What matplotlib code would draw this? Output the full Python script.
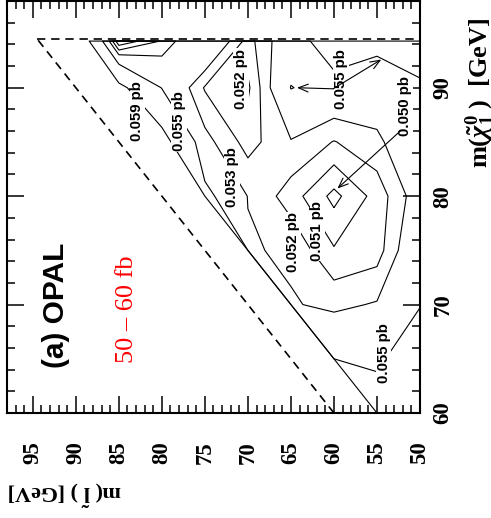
import numpy as np
import matplotlib.pyplot as plt

# scan grid: slepton mass (columns) and neutralino mass (rows), GeV
m_slepton = [50, 55, 60, 65, 70, 75, 80, 85, 90]
m_chi = [60, 65, 70, 75, 80, 85, 90, 94.3]

# 95% CL cross-section limit in pb, None = kinematically forbidden
limit_pb = [
    [0.0580, 0.0565, None, None, None, None, None, None, None],
    [0.05688, 0.05453, 0.0546, None, None, None, None, None, None],
    [0.05488, 0.0531, 0.05274, 0.0531, None, None, None, None, None],
    [0.0545, 0.05153, 0.0511, 0.0528, 0.05313, None, None, None, None],
    [0.05374, 0.0514, 0.0497, 0.0515, 0.05296, 0.0556, None, None, None],
    [0.0545, 0.0527, 0.05195, 0.0529, 0.0516, 0.0534, 0.0605, None, None],
    [0.0545, 0.0540, 0.05435, 0.05505, 0.0508, 0.0519, 0.0549, 0.0600, None],
    [0.0569, 0.05548, 0.0561, 0.0541, 0.0516, 0.0549, 0.0521, 0.0501, 0.0630],
]

levels = [0.050, 0.051, 0.052, 0.053, 0.055, 0.059]

# contour labels: text, slepton mass, neutralino mass
labels = [
    ("0.059 pb", 82.85, 87.84),
    ("0.055 pb", 78.02, 86.92),
    ("0.053 pb", 71.86, 81.79),
    ("0.052 pb", 70.81, 90.84),
    ("0.055 pb", 59.19, 90.84),
    ("0.050 pb", 51.74, 88.30),
    ("0.052 pb", 64.71, 75.74),
    ("0.051 pb", 61.92, 76.81),
    ("0.055 pb", 54.24, 65.54),
]

# arrows from labels: (start, end) in (slepton, neutralino) mass
arrows = [
    ((52.3, 86.0), (59.6, 80.7)),
    ((60.1, 89.9), (64.3, 90.0)),
    ((60.1, 89.9), (54.5, 92.6)),
]

beam_limit = 94.5  # upper kinematic limit on the neutralino mass
NO_SENS = 10.0     # value used where there is no sensitivity

plt.rcParams['font.family'] = ['Liberation Serif', 'DejaVu Serif']
plt.rcParams['font.weight'] = 'bold'
plt.rcParams['mathtext.fontset'] = 'custom'
plt.rcParams['mathtext.rm'] = 'Liberation Serif:bold'
plt.rcParams['mathtext.it'] = 'Liberation Serif:italic:bold'
plt.rcParams['mathtext.bf'] = 'Liberation Serif:bold'

# pad the grid with a forbidden row above the last scan point
z = np.array([[np.nan if v is None else v for v in row] for row in limit_pb])
z = np.where(np.isnan(z), NO_SENS, z)
z = np.vstack([z, np.full(len(m_slepton), NO_SENS)])
y_grid = m_chi + [m_chi[-1] + 5]

fig = plt.figure(figsize=(4.91, 5.18), dpi=100)
ax = fig.add_axes([0.01426, 0.2027, 0.8411, 0.7954])

ax.contour(m_slepton, y_grid, z, levels=levels, colors='k', linewidths=0.8)

# kinematic limits
diag = np.array([60, beam_limit])
ax.plot(diag, diag, color='k', lw=1.2, ls=(0, (5, 3.5)))
ax.plot([beam_limit, 50], [beam_limit, beam_limit], color='k', lw=1.2, ls=(0, (5, 3.5)))

for text, xl, yl in labels:
    ax.text(xl, yl, text, rotation=90, ha='center', va='center', fontsize=10.8,
            family='Liberation Sans', weight='bold',
            bbox=dict(fc='white', ec='none', pad=0.5))

for start, end in arrows:
    ax.annotate('', xy=end, xytext=start,
                arrowprops=dict(arrowstyle='->,head_length=0.5,head_width=0.2',
                                lw=0.8, color='k', mutation_scale=14,
                                shrinkA=0, shrinkB=0))

ax.text(92.25, 69.9, '(a) OPAL', rotation=90, ha='center', va='center',
        fontsize=21.5, family='Liberation Sans', weight='bold')
ax.text(84.0, 69.6, '50 \u2013 60 fb', rotation=90, ha='center', va='center',
        fontsize=19, color='red', weight='normal')

ax.set_xlim(98, 50)
ax.set_ylim(60, 98)
ax.set_xticks(np.arange(50, 96, 5))
ax.set_xticks(np.arange(50, 98, 1), minor=True)
ax.set_yticks(np.arange(60, 91, 10))
ax.set_yticks(np.arange(60, 98, 2), minor=True)

ax.tick_params(axis='both', which='both', direction='in', width=1.1,
               top=True, bottom=True, left=True, right=True)
ax.tick_params(axis='both', which='major', length=12)
ax.tick_params(axis='both', which='minor', length=6)
ax.tick_params(axis='x', labelbottom=True, labeltop=False, labelrotation=90,
               labelsize=16.5, pad=20)
ax.tick_params(axis='y', labelleft=False, labelright=True, labelrotation=90,
               labelsize=16.5, pad=9)
for t in ax.get_yticklabels():
    t.set_va('center')
for s in ax.spines.values():
    s.set_linewidth(1.5)

fig.text(65 / 491, 1 - 493 / 518, r'm( $\tilde{\mathrm{l}}$ ) [GeV]', rotation=180,
         ha='center', va='center', fontsize=16)
fig.text(480 / 491, 1 - 168 / 518, r'm($\tilde{\chi}^{0}_{1}$ )  [GeV]', rotation=90,
         rotation_mode='anchor', ha='left', va='center', fontsize=19)

fig.savefig('out.png', dpi=100)
